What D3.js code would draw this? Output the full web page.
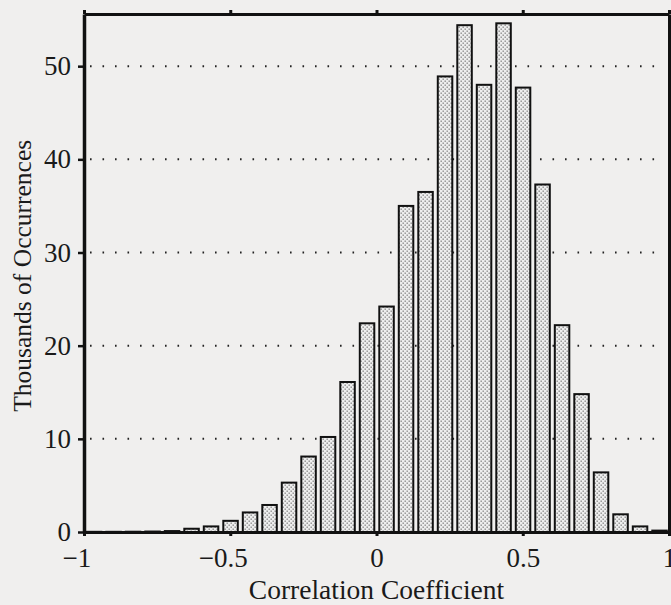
<!DOCTYPE html>
<html>
<head>
<meta charset="utf-8">
<script src="https://cdn.jsdelivr.net/npm/d3@7"></script>
<style>
  body { margin: 0; background: #f0efee; }
  text { font-family: "Liberation Serif", "Times New Roman", serif; fill: #1a1a1a; }
</style>
</head>
<body>
<div id="chart"></div>
<script>
// histogram bins: 30 bins of width 1/15 from -1 to 1
const binStart = -1;
const binWidth = 1 / 15;
// thousands of occurrences per bin
const counts = [0.02, 0.02, 0.03, 0.05, 0.1, 0.35, 0.6, 1.2, 2.1, 2.9,
                5.3, 8.1, 10.2, 16.1, 22.4, 24.2, 35.0, 36.5, 48.9, 54.4,
                48.0, 54.6, 47.7, 37.3, 22.2, 14.8, 6.4, 1.9, 0.6, 0.15];
const xTicks = [-1, -0.5, 0, 0.5, 1];
const yTicks = [0, 10, 20, 30, 40, 50];
const gridTicks = [10, 20, 30, 40, 50];

const width = 671, height = 605;
const margin = { top: 14, right: 1, bottom: 73, left: 84 };

const svg = d3.select("#chart")
    .append("svg")
    .attr("width", width)
    .attr("height", height);

// dotted screen fill like the printed bars
const defs = svg.append("defs");
const pat = defs.append("pattern")
    .attr("id", "dots")
    .attr("width", 4)
    .attr("height", 4)
    .attr("patternUnits", "userSpaceOnUse");
pat.append("rect").attr("width", 4).attr("height", 4).attr("fill", "#eeeeee");
pat.append("rect").attr("x", 0.5).attr("y", 0.5).attr("width", 1.4).attr("height", 1.4).attr("fill", "#8a8a8a");
pat.append("rect").attr("x", 2.5).attr("y", 2.5).attr("width", 1.4).attr("height", 1.4).attr("fill", "#8a8a8a");

const x = d3.scaleLinear()
    .domain([-1, 1])
    .range([margin.left, width - margin.right - 1]);

const y = d3.scaleLinear()
    .domain([0, 55.6])
    .range([height - margin.bottom, margin.top]);

// dotted gridlines
svg.append("g")
    .selectAll("line")
    .data(gridTicks)
    .enter()
    .append("line")
    .attr("x1", x(-1) + 6)
    .attr("x2", x(1) - 4)
    .attr("y1", d => y(d))
    .attr("y2", d => y(d))
    .attr("stroke", "#222")
    .attr("stroke-width", 2)
    .attr("stroke-dasharray", "1.6 10.9");

// bars
const bins = counts.map((c, i) => ({ x0: binStart + i * binWidth, x1: binStart + (i + 1) * binWidth, v: c }));
svg.append("g")
    .selectAll("rect")
    .data(bins)
    .enter()
    .append("rect")
    .attr("x", d => x(d.x0) + 2.8)
    .attr("width", d => x(d.x1) - x(d.x0) - 5)
    .attr("y", d => y(d.v))
    .attr("height", d => y(0) - y(d.v))
    .attr("fill", "url(#dots)")
    .attr("stroke", "#111")
    .attr("stroke-width", 2);

// bottom axis: number centred on the tick, minus sign hanging to the left
const xAxis = svg.append("g")
    .attr("transform", `translate(0,${y(0)})`)
    .call(d3.axisBottom(x).tickValues(xTicks).tickSize(4).tickPadding(12).tickSizeOuter(0)
        .tickFormat(d => String(d).replace("-", "\u2212")));
xAxis.select(".domain").attr("stroke", "#111").attr("stroke-width", 3);
xAxis.selectAll(".tick line").attr("stroke", "#111").attr("stroke-width", 3);
xAxis.selectAll(".tick text")
    .attr("font-size", 27)
    .attr("font-family", "Liberation Serif")
    .attr("dx", d => d < 0 ? -7.6 : 0);

// top axis (ticks only)
const xTop = svg.append("g")
    .attr("transform", `translate(0,${y.range()[1]})`)
    .call(d3.axisTop(x).tickValues(xTicks).tickSize(4).tickFormat("").tickSizeOuter(0));
xTop.select(".domain").attr("stroke", "#111").attr("stroke-width", 3);
xTop.selectAll(".tick line").attr("stroke", "#111").attr("stroke-width", 3);

// left axis
const yAxis = svg.append("g")
    .attr("transform", `translate(${x(-1)},0)`)
    .call(d3.axisLeft(y).tickValues(yTicks).tickSize(6).tickPadding(7).tickSizeOuter(0));
yAxis.select(".domain").attr("stroke", "#111").attr("stroke-width", 3.5);
yAxis.selectAll(".tick line").attr("stroke", "#111").attr("stroke-width", 2.5);
yAxis.selectAll(".tick text").attr("font-size", 27).attr("font-family", "Liberation Serif");

// right axis
const yRight = svg.append("g")
    .attr("transform", `translate(${x(1)},0)`)
    .call(d3.axisRight(y).tickValues(yTicks).tickSize(0).tickFormat("").tickSizeOuter(0));
yRight.select(".domain").attr("stroke", "#111").attr("stroke-width", 3);

// axis titles
svg.append("text")
    .attr("x", x(0))
    .attr("y", 599)
    .attr("text-anchor", "middle")
    .attr("font-size", 27.5)
    .text("Correlation Coefficient");

svg.append("text")
    .attr("transform", `translate(31,${y(27.5)}) rotate(-90)`)
    .attr("text-anchor", "middle")
    .attr("font-size", 25.5)
    .text("Thousands of Occurrences");
</script>
</body>
</html>
